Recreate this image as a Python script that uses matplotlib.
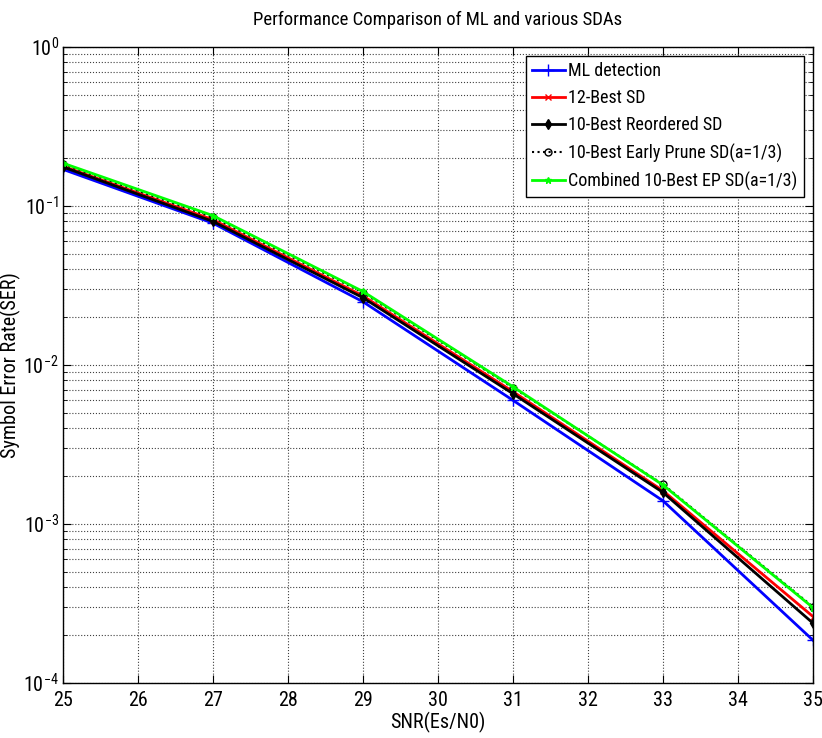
import matplotlib
matplotlib.use("Agg")
import matplotlib.pyplot as plt
from matplotlib.ticker import LogLocator, NullFormatter, FixedLocator
from matplotlib import font_manager

# choose a narrow Helvetica-like font when available
entries = font_manager.fontManager.ttflist
names = {f.name for f in entries}
base = None
stretch = 'normal'
for cand in ['Liberation Sans Narrow', 'Arial Narrow', 'Roboto Condensed', 'Open Sans Condensed']:
    if cand in names:
        base = cand
        break
if base is None:
    for f in entries:
        if f.name in ('Liberation Sans', 'Roboto', 'Open Sans', 'Noto Sans', 'Lato', 'Inter') and \
                str(f.stretch) in ('condensed', 'semi-condensed', '75', '87', 'extra-condensed'):
            base = f.name
            stretch = f.stretch
            break
if base is None:
    base = 'Liberation Sans'
plt.rcParams['font.family'] = [base, 'DejaVu Sans']
plt.rcParams['font.stretch'] = stretch
plt.rcParams['mathtext.fontset'] = 'custom'
plt.rcParams['mathtext.rm'] = base

snr = [25, 27, 29, 31, 33, 35]
ml = [0.170, 0.078, 0.0250, 0.0060, 0.00140, 0.000186]
best12 = [0.178, 0.082, 0.0272, 0.0068, 0.00162, 0.000262]
best10_reord = [0.176, 0.080, 0.0265, 0.0066, 0.00158, 0.000238]
best10_ep = [0.183, 0.085, 0.0285, 0.0072, 0.00178, 0.000302]
combined = [0.186, 0.087, 0.0290, 0.0073, 0.00176, 0.000298]

labels = ['ML detection', '12-Best SD', '10-Best Reordered SD',
          '10-Best Early Prune SD(a=1/3)', 'Combined 10-Best EP SD(a=1/3)']

fig = plt.figure(figsize=(8.22, 7.38), dpi=100)
ax = fig.add_axes([0.0766, 0.0745, 0.9124, 0.8618])

ax.semilogy(snr, ml, color='#0000ff', marker='+', markersize=8, lw=2, label=labels[0])
ax.semilogy(snr, best12, color='#ff0000', marker='x', markersize=5, lw=2, label=labels[1])
ax.semilogy(snr, best10_reord, color='black', marker='d', markersize=5, lw=2, label=labels[2])
ax.semilogy(snr, best10_ep, color='black', marker='o', markersize=5, mfc='none', lw=1.5,
            ls=':', label=labels[3])
ax.semilogy(snr, combined, color='#00ff00', marker='*', markersize=5, lw=2, label=labels[4])

ax.set_xlim(25, 35)
ax.set_ylim(1e-4, 1)
ax.xaxis.set_major_locator(FixedLocator(range(25, 36)))
ax.yaxis.set_major_locator(LogLocator(base=10, numticks=10))
ax.yaxis.set_minor_locator(LogLocator(base=10, subs=range(2, 10), numticks=20))
ax.yaxis.set_minor_formatter(NullFormatter())

ax.grid(True, which='major', axis='both', ls=':', color='#404040', lw=0.8)
ax.grid(True, which='minor', axis='y', ls=':', color='#404040', lw=0.8)

ax.tick_params(which='both', direction='in', top=True, right=True, labelsize=14.5)
ax.tick_params(which='major', length=6)
ax.tick_params(which='minor', length=3)
ax.tick_params(axis='y', pad=3)
ax.tick_params(axis='x', pad=6)
for s in ax.spines.values():
    s.set_linewidth(1.0)

ax.set_title('Performance Comparison of ML and various SDAs', fontsize=13.5, pad=16)
ax.set_xlabel('SNR(Es/N0)', fontsize=14.5, labelpad=1)
ax.set_ylabel('Symbol Error Rate(SER)', fontsize=14.5)
ax.yaxis.set_label_coords(-0.056, 0.5)

leg = ax.legend(loc='upper right', fontsize=13, frameon=True, fancybox=False,
                edgecolor='black', framealpha=1, handlelength=1.8, borderaxespad=0.5,
                labelspacing=0.5, handletextpad=0.2, borderpad=0.35)
leg.get_frame().set_linewidth(1.0)

fig.savefig('out.png', dpi=100)
